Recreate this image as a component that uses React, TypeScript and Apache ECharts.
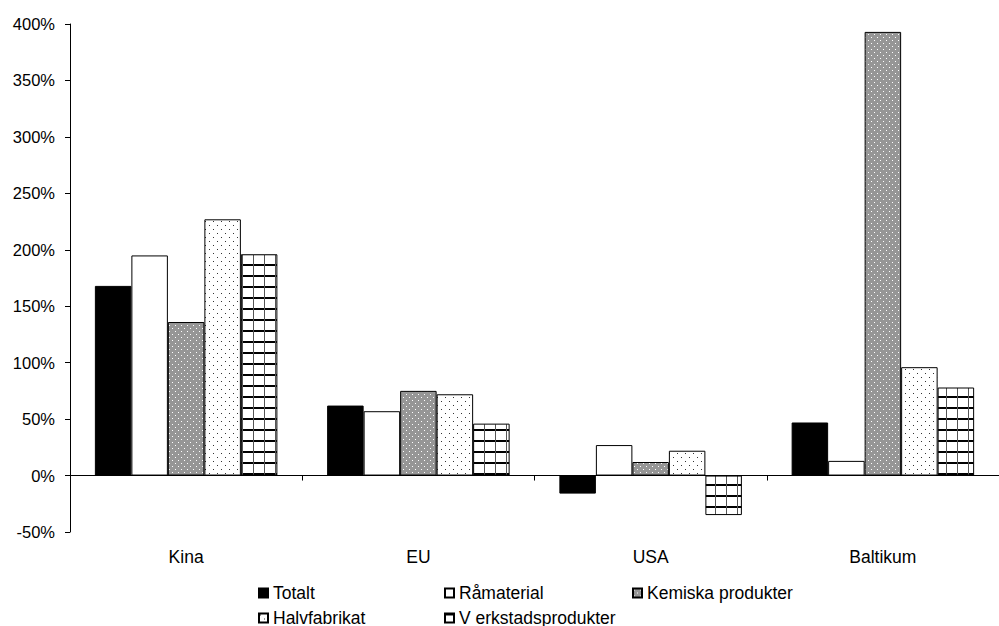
import React, { useEffect, useRef } from "react";
import * as echarts from "echarts";

const categories = ["Kina", "EU", "USA", "Baltikum"];
const seriesNames = ["Totalt", "Råmaterial", "Kemiska produkter", "Halvfabrikat", "V erkstadsprodukter"];
const totalt = [168, 62, -16, 47];
const ramaterial = [195, 57, 27, 13];
const kemiska = [136, 75, 12, 393];
const halvfabrikat = [227, 72, 22, 96];
const verkstad = [196, 46, -35, 78];
const yTicks = { min: -50, max: 400, interval: 50 };

function makeTile(w: number, h: number, draw: (ctx: CanvasRenderingContext2D) => void) {
  const c = document.createElement("canvas");
  c.width = w;
  c.height = h;
  const ctx = c.getContext("2d")!;
  draw(ctx);
  return c;
}

export default function App() {
  const ref = useRef<HTMLDivElement>(null);
  useEffect(() => {
    if (!ref.current) return;
    const chart = echarts.init(ref.current, null, { renderer: "svg" });
    const font = "Liberation Sans, Arial, sans-serif";

    const grayDots = makeTile(6, 6, (ctx) => {
      ctx.fillStyle = "#969696";
      ctx.fillRect(0, 0, 6, 6);
      ctx.fillStyle = "#ffffff";
      ctx.fillRect(1, 1, 1, 1);
      ctx.fillRect(4, 4, 1, 1);
    });
    const whiteDots = makeTile(8, 8, (ctx) => {
      ctx.fillStyle = "#ffffff";
      ctx.fillRect(0, 0, 8, 8);
      ctx.fillStyle = "#333333";
      ctx.fillRect(1, 1, 1, 1);
      ctx.fillRect(5, 5, 1, 1);
    });
    const grid = makeTile(11, 11, (ctx) => {
      ctx.fillStyle = "#ffffff";
      ctx.fillRect(0, 0, 11, 11);
      ctx.fillStyle = "#000000";
      ctx.fillRect(0, 0, 11, 2);
      ctx.fillStyle = "#555555";
      ctx.fillRect(0, 0, 1, 11);
    });

    const fills: any[] = [
      "#000000",
      "#ffffff",
      { image: grayDots, repeat: "repeat" },
      { image: whiteDots, repeat: "repeat" },
      { image: grid, repeat: "repeat" },
    ];
    const dataArr = [totalt, ramaterial, kemiska, halvfabrikat, verkstad];

    const legendPos = [
      { left: 258, top: 584 },
      { left: 444, top: 584 },
      { left: 632, top: 584 },
      { left: 258, top: 609 },
      { left: 444, top: 609 },
    ];

    chart.setOption({
      animation: false,
      backgroundColor: "#ffffff",
      grid: { left: 70, right: -14, top: 24, bottom: 94, containLabel: false },
      legend: seriesNames.map((n, i) => ({
        data: [n],
        left: legendPos[i].left,
        top: legendPos[i].top,
        itemWidth: 9,
        itemHeight: 9,
        padding: 0,
        icon: "rect",
        textStyle: { fontFamily: font, fontSize: 17.5, color: "#000" },
        selectedMode: false,
      })),
      xAxis: {
        type: "category",
        data: categories,
        axisLine: { onZero: true, lineStyle: { color: "#000", width: 1 } },
        axisTick: { show: true, length: 5, lineStyle: { color: "#000" } },
        axisLabel: { margin: 16, fontFamily: font, fontSize: 17.5, color: "#000" },
      },
      yAxis: {
        type: "value",
        min: yTicks.min,
        max: yTicks.max,
        interval: yTicks.interval,
        splitLine: { show: false },
        axisLine: { show: true, lineStyle: { color: "#000", width: 1 } },
        axisTick: { show: true, length: 5, lineStyle: { color: "#000" } },
        axisLabel: { formatter: "{value}%", margin: 15, fontFamily: font, fontSize: 16.5, color: "#000" },
      },
      series: seriesNames.map((n, i) => ({
        name: n,
        type: "bar",
        data: dataArr[i],
        barWidth: 36.5,
        barGap: "0%",
        itemStyle: { color: fills[i], borderColor: "#000", borderWidth: 1 },
      })),
    });
    return () => chart.dispose();
  }, []);
  return (
    <div
      ref={ref}
      style={{ position: "fixed", left: 0, top: 0, width: 999, height: 626, background: "#fff" }}
    />
  );
}
